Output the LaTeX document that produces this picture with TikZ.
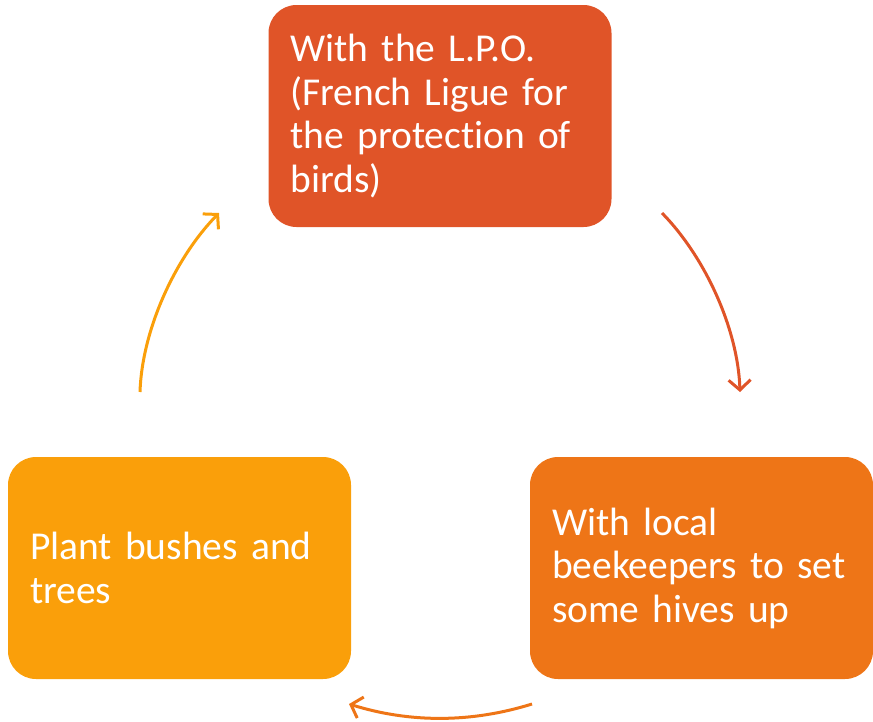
\documentclass[tikz,border=0pt]{standalone}
\usepackage{fontspec}
\setmainfont[Ligatures={NoCommon}]{Carlito}
\usetikzlibrary{arrows.meta}
\definecolor{cTop}{HTML}{E05428}
\definecolor{cRight}{HTML}{EE7517}
\definecolor{cLeft}{HTML}{FA9F0A}
\newcommand{\myboxfont}{\fontsize{39.5}{43.5}\selectfont\spaceskip=8.5pt plus 2pt minus 2pt\relax}
\tikzset{
  box/.style={rounded corners=28pt, minimum width=343pt, minimum height=222pt,
    text width=299pt, inner sep=0pt, align=left, text=white,
    font=\myboxfont},
  flow/.style={line width=3pt, -{Straight Barb[length=10pt,width=22pt,line width=3pt]}}
}
\begin{document}
\begin{tikzpicture}[x=1pt,y=-1pt]
\useasboundingbox (0,0) rectangle (873,721);
\node[box, fill=cTop] (lpo) at (440,116) {With the L.P.O.\\(French Ligue for\\the protection of\\birds)};
\node[box, fill=cRight] (bee) at (701.5,568) {With local\\beekeepers to set\\some hives up};
\node[box, fill=cLeft] (plant) at (179.5,568) {Plant bushes and\\trees};
\coordinate (a1s) at (662,213);
\coordinate (a1e) at (740,392);
\coordinate (a2s) at (532,704);
\coordinate (a2e) at (349,704);
\coordinate (a3s) at (140,392);
\coordinate (a3e) at (219,213);
\draw[flow, draw=cTop] (a1s) .. controls (706,258) and (738,330) .. (a1e);
\draw[flow, draw=cRight] (a2s) .. controls (471,723) and (410,723) .. (a2e);
\draw[flow, draw=cLeft] (a3s) .. controls (142,330) and (175,258) .. (a3e);
\end{tikzpicture}
\end{document}
